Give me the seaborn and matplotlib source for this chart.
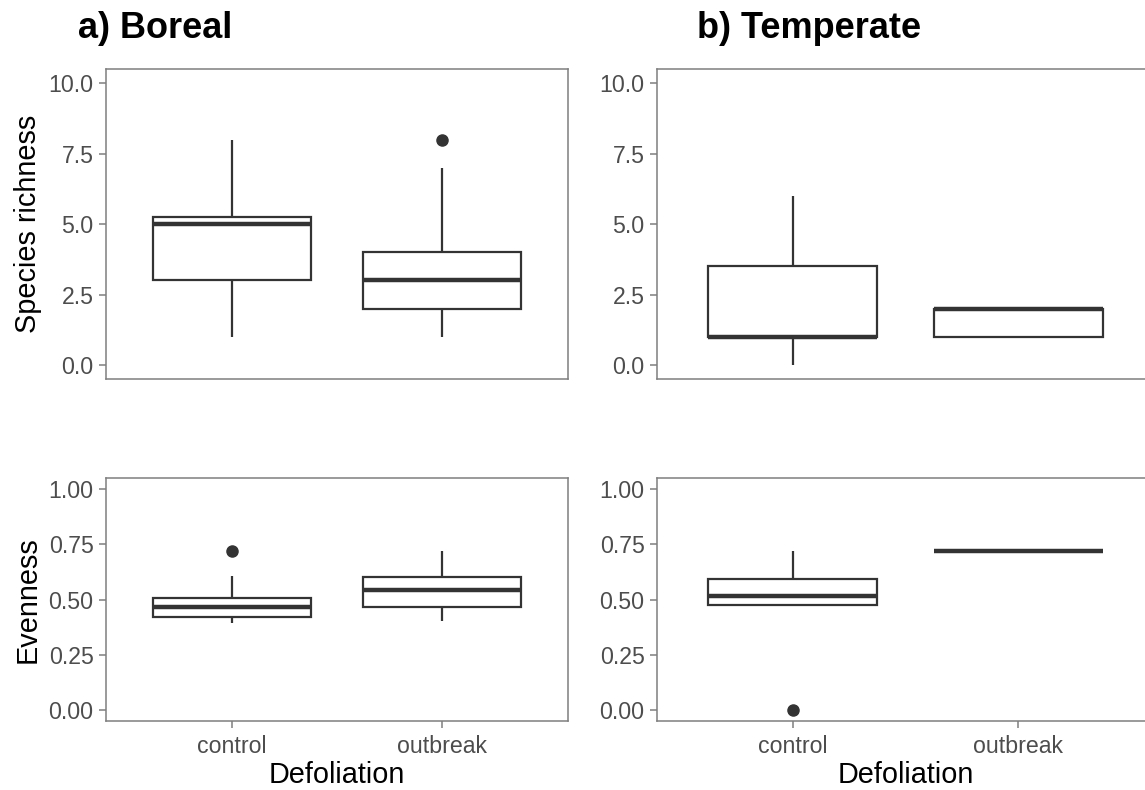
import numpy as np
import pandas as pd
import seaborn as sns
import matplotlib.pyplot as plt

# ---------------------------------------------------------------
# Data
# ---------------------------------------------------------------
GROUPS = ["control", "outbreak"]

# species richness
BOREAL_RICH_CONTROL = [1, 2, 3, 3, 4, 5, 5, 5, 5, 6, 7, 8]
BOREAL_RICH_OUTBREAK = [1, 2, 2, 2, 3, 3, 3, 3, 4, 4, 7, 8]
TEMP_RICH_CONTROL = [0, 1, 1, 1, 3, 4, 6]
TEMP_RICH_OUTBREAK = [1, 1, 2, 2, 2]

# evenness
BOREAL_EVEN_CONTROL = [0.393, 0.41, 0.422, 0.45, 0.467, 0.49, 0.508, 0.607, 0.721]
BOREAL_EVEN_OUTBREAK = [0.404, 0.44, 0.465, 0.50, 0.541, 0.57, 0.603, 0.66, 0.719]
TEMP_EVEN_CONTROL = [0.0, 0.474, 0.474, 0.49, 0.517, 0.55, 0.593, 0.65, 0.719]
TEMP_EVEN_OUTBREAK = [0.721, 0.721, 0.721]

RICH_TICKS = [0, 2.5, 5, 7.5, 10]
EVEN_TICKS = [0, 0.25, 0.5, 0.75, 1.0]

LINE = "#333333"
BORDER = "#7f7f7f"
TICKTXT = "#4d4d4d"


def makeFrame(control, outbreak):
    return pd.DataFrame({
        "Defoliation": ["control"] * len(control) + ["outbreak"] * len(outbreak),
        "value": list(control) + list(outbreak),
    })


def drawBox(ax, df, ticks, fmt, ylim, ylabel, bottom):
    sns.boxplot(data=df, x="Defoliation", y="value", order=GROUPS, ax=ax,
                width=0.75, color="white", linecolor=LINE, linewidth=1.6,
                showcaps=False,
                medianprops=dict(linewidth=3.2, color=LINE),
                flierprops=dict(marker="o", markersize=8, markerfacecolor=LINE,
                                markeredgecolor=LINE))
    ax.set_xlim(-0.6, 1.6)
    ax.set_ylim(*ylim)
    ax.set_yticks(ticks)
    ax.set_yticklabels([fmt % t for t in ticks])
    for s in ax.spines.values():
        s.set_visible(True)
        s.set_color(BORDER)
        s.set_linewidth(1.1)
    ax.tick_params(axis="both", colors=BORDER, labelcolor=TICKTXT,
                   labelsize=16.7, length=5, width=1.1, pad=4, direction="out",
                   left=True, bottom=bottom, labelbottom=bottom)
    ax.tick_params(axis="x", pad=5)
    ax.set_ylabel(ylabel, fontsize=20.8, color="black", labelpad=5)
    if bottom:
        ax.set_xlabel("Defoliation", fontsize=20.8, color="black", labelpad=2)
    else:
        ax.set_xlabel("")


def main():
    sns.set_style("white")
    plt.rcParams["font.family"] = ["Liberation Sans", "DejaVu Sans"]

    fig = plt.figure(figsize=(11.45, 7.9), dpi=100)
    axTL = fig.add_axes([0.0926, 0.5203, 0.4035, 0.392])
    axTR = fig.add_axes([0.5738, 0.5203, 0.434, 0.392])
    axBL = fig.add_axes([0.0926, 0.0873, 0.4035, 0.3076])
    axBR = fig.add_axes([0.5738, 0.0873, 0.434, 0.3076])

    drawBox(axTL, makeFrame(BOREAL_RICH_CONTROL, BOREAL_RICH_OUTBREAK),
            RICH_TICKS, "%.1f", (-0.5, 10.5), "Species richness", False)
    drawBox(axTR, makeFrame(TEMP_RICH_CONTROL, TEMP_RICH_OUTBREAK),
            RICH_TICKS, "%.1f", (-0.5, 10.5), "", False)
    drawBox(axBL, makeFrame(BOREAL_EVEN_CONTROL, BOREAL_EVEN_OUTBREAK),
            EVEN_TICKS, "%.2f", (-0.05, 1.05), "Evenness", True)
    drawBox(axBR, makeFrame(TEMP_EVEN_CONTROL, TEMP_EVEN_OUTBREAK),
            EVEN_TICKS, "%.2f", (-0.05, 1.05), "", True)

    fig.text(78 / 1145, 1 - 38 / 790, "a) Boreal", fontsize=26, color="black",
             fontweight="bold", va="baseline", ha="left")
    fig.text(697 / 1145, 1 - 38 / 790, "b) Temperate", fontsize=26, color="black",
             fontweight="bold", va="baseline", ha="left")

    fig.savefig("out.png", dpi=100)


if __name__ == "__main__":
    main()
